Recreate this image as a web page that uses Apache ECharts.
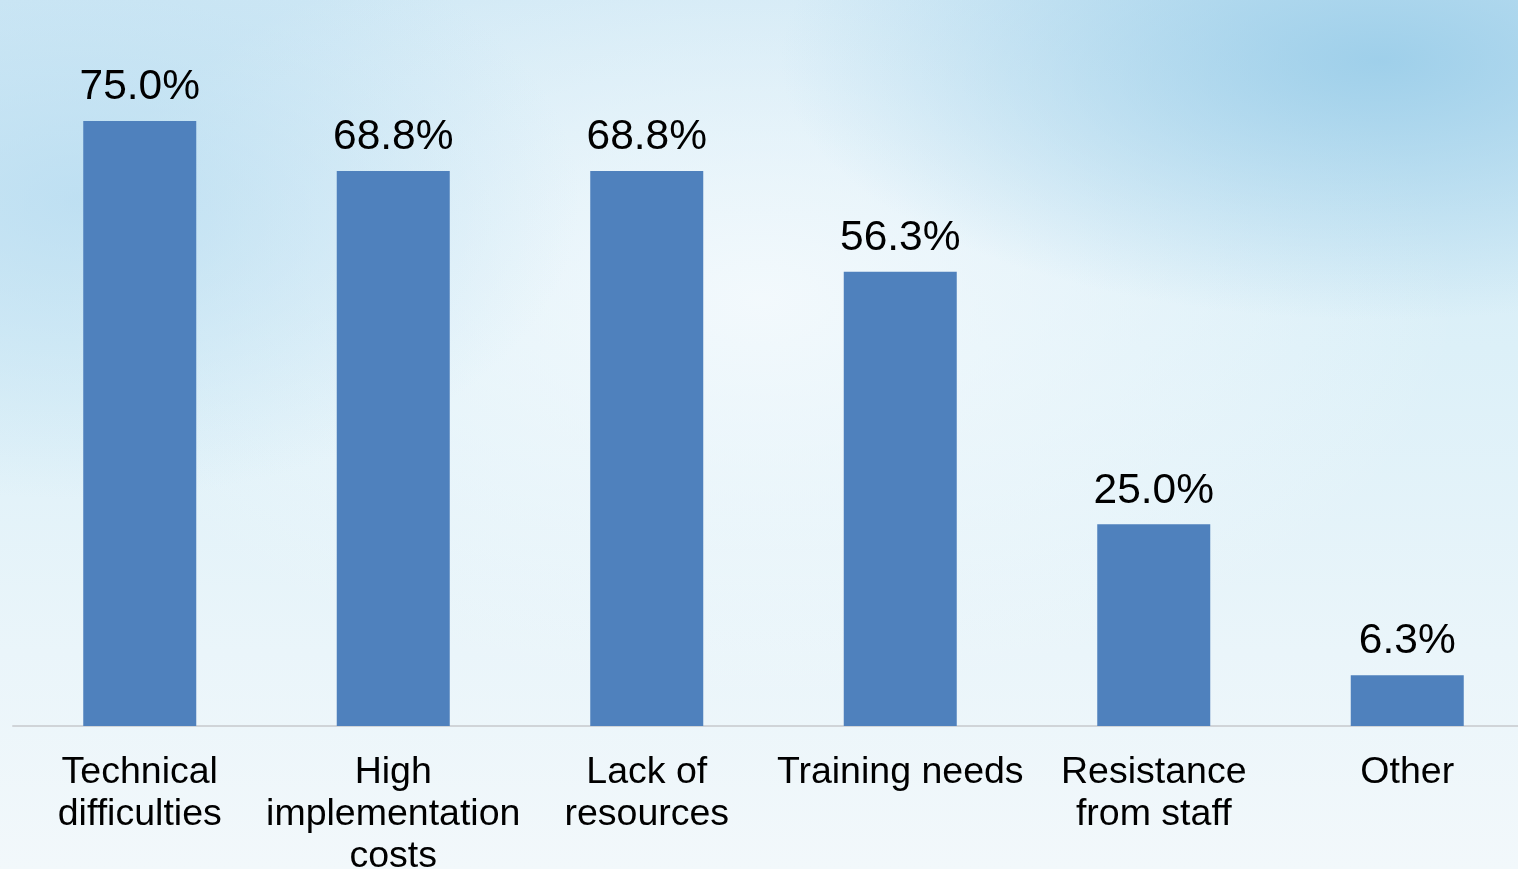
<!DOCTYPE html>
<html>
<head>
<meta charset="utf-8">
<script src="https://cdn.jsdelivr.net/npm/echarts@6/dist/echarts.min.js"></script>
<style>
html,body{margin:0;padding:0;width:1518px;height:869px;overflow:hidden;}
body{background:
 radial-gradient(ellipse 600px 260px at 1380px 60px, rgba(150,203,232,0.85), rgba(150,203,232,0) 100%),
 radial-gradient(ellipse 500px 300px at 80px 200px, rgba(180,218,240,0.7), rgba(180,218,240,0) 100%),
 radial-gradient(ellipse 700px 400px at 760px 300px, rgba(245,250,253,0.9), rgba(245,250,253,0) 100%),
 linear-gradient(180deg,#cfe8f5 0%,#dcf0f8 40%,#eaf5fa 75%,#f2f8fb 100%);}
#chart{width:1518px;height:869px;}
</style>
</head>
<body>
<div id="chart"></div>
<script>
const categories = ["Technical\ndifficulties","High\nimplementation\ncosts","Lack of\nresources","Training needs","Resistance\nfrom staff","Other"];
const values = [75.0, 68.8, 68.8, 56.3, 25.0, 6.3];

const chart = echarts.init(document.getElementById('chart'), null, {renderer:'canvas'});
chart.setOption({
  backgroundColor: 'transparent',
  animation: false,
  grid: {left: 13, top: 0, width: 1521, height: 726, containLabel: false, outerBoundsMode: 'none'},
  xAxis: {
    type: 'category',
    data: categories,
    axisLine: {show: true, lineStyle: {color: '#d0d4d8', width: 2}},
    axisTick: {show: false},
    axisLabel: {interval: 0, color: '#000', fontFamily: 'Liberation Sans, Arial, sans-serif', fontSize: 37.5, lineHeight: 42, margin: 26}
  },
  yAxis: {type: 'value', min: 0, max: 90, interval: 10, show: false, splitLine: {show: false}},
  series: [{
    type: 'bar',
    data: values,
    barWidth: 113,
    itemStyle: {color: '#4f81bd'},
    label: {
      show: true, position: 'top', distance: 12,
      color: '#000', fontFamily: 'Liberation Sans, Arial, sans-serif', fontSize: 42.5,
      formatter: p => p.value.toFixed(1) + '%'
    }
  }]
});
</script>
</body>
</html>
